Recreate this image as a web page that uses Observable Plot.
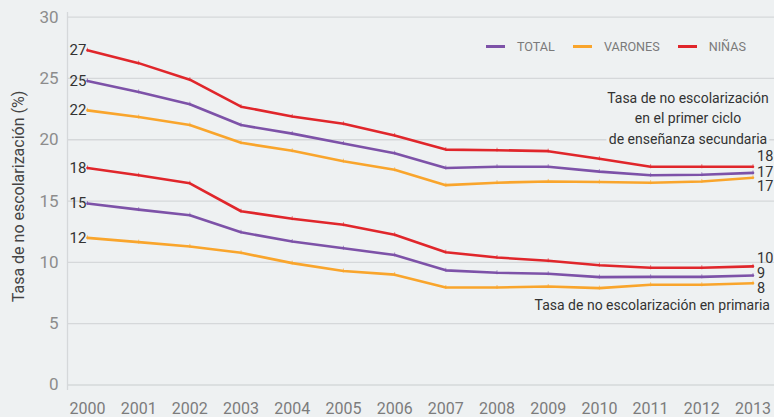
<!DOCTYPE html>
<html>
<head>
<meta charset="utf-8">
<script src="https://cdn.jsdelivr.net/npm/d3@7"></script>
<script src="https://cdn.jsdelivr.net/npm/@observablehq/plot@0.6"></script>
<style>
  body { margin: 0; background: #eef1f2; }
  #wrap { position: relative; width: 774px; height: 417px; font-family: Roboto, "Noto Sans", sans-serif; }
  #legend { position: absolute; top: 39px; left: 486px; display: flex; align-items: center; font-size: 12.6px; color: #7a7a7a; }
  #legend .item { display: flex; align-items: center; margin-right: 18px; }
  #legend .sw { width: 19px; height: 2.5px; margin-right: 12px; }
</style>
</head>
<body>
<div id="wrap"><div id="legend"></div></div>
<script>
const years = [2000, 2001, 2002, 2003, 2004, 2005, 2006, 2007, 2008, 2009, 2010, 2011, 2012, 2013];
const sexos = ["TOTAL", "VARONES", "NIÑAS"];
const colors = ["#7d52a8", "#f9a52c", "#e0262b"];
const yTicks = [0, 5, 10, 15, 20, 25, 30];

// Primer ciclo de enseñanza secundaria
const secTotal   = [24.8, 23.9, 22.9, 21.2, 20.5, 19.7, 18.9, 17.7, 17.8, 17.8, 17.4, 17.1, 17.15, 17.3];
const secVarones = [22.4, 21.85, 21.2, 19.75, 19.1, 18.25, 17.55, 16.3, 16.5, 16.6, 16.55, 16.5, 16.6, 16.9];
const secNinas   = [27.3, 26.25, 24.9, 22.7, 21.9, 21.3, 20.35, 19.2, 19.15, 19.07, 18.45, 17.8, 17.8, 17.8];
// Primaria
const priTotal   = [14.8, 14.3, 13.85, 12.45, 11.7, 11.15, 10.6, 9.35, 9.15, 9.07, 8.8, 8.82, 8.82, 8.93];
const priVarones = [12.0, 11.65, 11.3, 10.78, 9.94, 9.3, 9.0, 7.95, 7.95, 8.03, 7.9, 8.17, 8.17, 8.3];
const priNinas   = [17.7, 17.1, 16.45, 14.17, 13.56, 13.07, 12.25, 10.83, 10.4, 10.13, 9.77, 9.56, 9.56, 9.67];

const yLabel = "Tasa de no escolarización (%)";
const secNote = "Tasa de no escolarización\nen el primer ciclo\nde enseñanza secundaria";
const priNote = "Tasa de no escolarización en primaria";

const series = [
  {nivel: "sec", sexo: "TOTAL", values: secTotal},
  {nivel: "sec", sexo: "VARONES", values: secVarones},
  {nivel: "sec", sexo: "NIÑAS", values: secNinas},
  {nivel: "pri", sexo: "TOTAL", values: priTotal},
  {nivel: "pri", sexo: "VARONES", values: priVarones},
  {nivel: "pri", sexo: "NIÑAS", values: priNinas}
];
const rows = [];
series.forEach(s => s.values.forEach((v, i) => rows.push({year: years[i], value: v, sexo: s.sexo, nivel: s.nivel})));
const first = rows.filter(d => d.year === years[0]);
const last = rows.filter(d => d.year === years[years.length - 1]);
const lastOf = (nivel, sexo) => last.filter(d => d.nivel === nivel && d.sexo === sexo);

const xDomain = [1999.61, 2013.42];
const bg = "#eef1f2";
const endLabel = (nivel, sexo, dy) => Plot.text(lastOf(nivel, sexo), {
  x: "year", y: "value", text: d => String(Math.round(d.value)),
  textAnchor: "start", dx: 4, dy, fill: "#333", fontSize: 14.5
});

const chart = Plot.plot({
  width: 774, height: 417,
  marginLeft: 67, marginRight: 0, marginTop: 12, marginBottom: 27,
  style: {background: bg, fontFamily: "Roboto, 'Noto Sans', sans-serif"},
  x: {domain: xDomain},
  y: {domain: [-0.45, 30.38]},
  color: {domain: sexos, range: colors},
  marks: [
    Plot.gridY(yTicks, {stroke: "#d5d8da", strokeOpacity: 1, strokeWidth: 1.3}),
    Plot.ruleX([xDomain[0]], {stroke: "#d5d8da", strokeWidth: 1.3}),
    Plot.axisY({ticks: yTicks, tickSize: 0, tickPadding: 9, fontSize: 17, fill: "#8c8c8c", label: null}),
    Plot.axisX({ticks: years, tickFormat: d => String(d), tickSize: 0, tickPadding: 12, fontSize: 16, fill: "#7c7c7c", label: null}),
    Plot.text([yLabel], {frameAnchor: "left", textAnchor: "middle", rotate: -90, dx: -49, dy: -5, fontSize: 16, fill: "#444"}),
    Plot.lineY(rows, {x: "year", y: "value", stroke: "sexo", z: d => d.nivel + d.sexo, strokeWidth: 2.6}),
    Plot.ruleX(rows, {x: "year", y1: "value", y2: "value", stroke: "sexo", strokeWidth: 0.8, strokeOpacity: 0.8, insetTop: -2, insetBottom: -2}),
    Plot.text(first, {x: "year", y: "value", text: d => String(Math.round(d.value)), textAnchor: "end", dx: -1, fill: "#333", fontSize: 15}),
    endLabel("sec", "NIÑAS", -10),
    endLabel("sec", "TOTAL", -1),
    endLabel("sec", "VARONES", 9),
    endLabel("pri", "NIÑAS", -8),
    endLabel("pri", "TOTAL", -2),
    endLabel("pri", "VARONES", 5),
    Plot.text(lastOf("sec", "NIÑAS"), {x: "year", y: "value", text: () => secNote, textAnchor: "middle", lineAnchor: "bottom", lineHeight: 1.45, dx: -65, dy: -23, fontSize: 14, fill: "#333", stroke: bg, strokeWidth: 6}),
    Plot.text(lastOf("pri", "VARONES"), {x: "year", y: "value", text: () => priNote, textAnchor: "end", dx: 17, dy: 22, fontSize: 14, fill: "#333"})
  ]
});
document.getElementById("wrap").prepend(chart);

const legend = document.getElementById("legend");
sexos.forEach((s, i) => {
  const item = document.createElement("div");
  item.className = "item";
  const sw = document.createElement("div");
  sw.className = "sw";
  sw.style.background = colors[i];
  const t = document.createElement("span");
  t.textContent = s;
  item.append(sw, t);
  legend.append(item);
});
</script>
</body>
</html>
